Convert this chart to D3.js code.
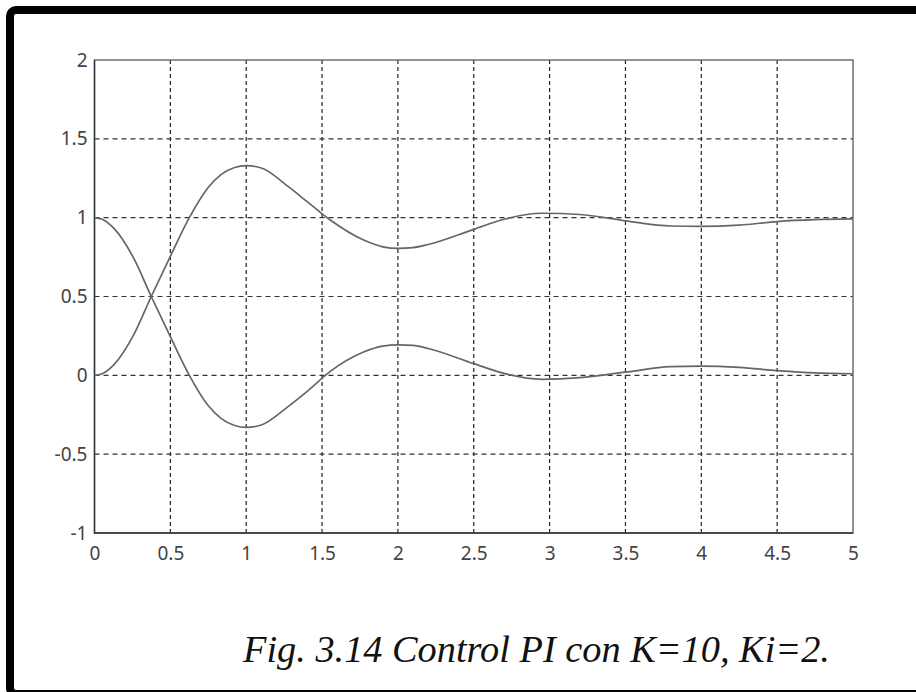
<!DOCTYPE html>
<html>
<head>
<meta charset="utf-8">
<script src="https://cdn.jsdelivr.net/npm/d3@7"></script>
<style>
  body { margin: 0; background: #fff; }
  svg { display: block; }
</style>
</head>
<body>
<svg id="chart" width="916" height="692"></svg>
<script>
// values
const time = [0, 0.05, 0.13, 0.26, 0.374, 0.5, 0.625, 0.748, 0.836, 0.924, 1.0, 1.1, 1.28, 1.41, 1.554, 1.774, 1.9, 2.0, 2.1, 2.2, 2.5, 2.7, 2.95, 3.2, 3.5, 3.8, 4.0, 4.25, 4.5, 4.75, 5.0];
const output = [0, 0.01, 0.07, 0.26, 0.5, 0.755, 1.0, 1.19, 1.275, 1.318, 1.33, 1.315, 1.195, 1.095, 0.985, 0.858, 0.815, 0.805, 0.81, 0.83, 0.926, 0.99, 1.028, 1.02, 0.98, 0.947, 0.945, 0.953, 0.975, 0.987, 0.992];
const error = [1, 0.99, 0.93, 0.74, 0.5, 0.245, 0.0, -0.19, -0.275, -0.318, -0.33, -0.315, -0.195, -0.095, 0.025, 0.148, 0.185, 0.193, 0.19, 0.17, 0.074, 0.012, -0.025, -0.015, 0.02, 0.055, 0.058, 0.05, 0.03, 0.015, 0.01];
const xTicks = [0, 0.5, 1, 1.5, 2, 2.5, 3, 3.5, 4, 4.5, 5];
const yTicks = [-1, -0.5, 0, 0.5, 1, 1.5, 2];
const caption = "Fig. 3.14 Control PI con K=10, Ki=2.";

const svg = d3.select("#chart");

// black frame around the figure
svg.append("rect")
  .attr("x", 10).attr("y", 10)
  .attr("width", 914).attr("height", 684)
  .attr("rx", 6)
  .attr("fill", "none")
  .attr("stroke", "#000")
  .attr("stroke-width", 8);

const plotLeft = 94.5, plotRight = 853, plotTop = 60, plotBottom = 533;

const x = d3.scaleLinear().domain([0, 5]).range([plotLeft, plotRight]);
const y = d3.scaleLinear().domain([-1, 2]).range([plotBottom, plotTop]);

// dashed grid
svg.selectAll(".vgrid")
  .data(xTicks.slice(1, -1))
  .enter()
  .append("line")
  .attr("class", "vgrid")
  .attr("x1", d => x(d)).attr("x2", d => x(d))
  .attr("y1", plotTop).attr("y2", plotBottom)
  .attr("stroke", "#222")
  .attr("stroke-width", 1.2)
  .attr("stroke-dasharray", "4,3");

svg.selectAll(".hgrid")
  .data(yTicks.slice(1, -1))
  .enter()
  .append("line")
  .attr("class", "hgrid")
  .attr("x1", plotLeft).attr("x2", plotRight)
  .attr("y1", d => y(d)).attr("y2", d => y(d))
  .attr("stroke", "#333")
  .attr("stroke-width", 1.2)
  .attr("stroke-dasharray", "5,4");

// axes box
svg.append("rect")
  .attr("x", plotLeft).attr("y", plotTop)
  .attr("width", plotRight - plotLeft).attr("height", plotBottom - plotTop)
  .attr("fill", "none")
  .attr("stroke", "#666")
  .attr("stroke-width", 1.4);

svg.append("path")
  .attr("d", `M${plotLeft},${plotTop}V${plotBottom}H${plotRight}`)
  .attr("fill", "none")
  .attr("stroke", "#333")
  .attr("stroke-width", 1.4);

const fmt = d => String(d);
const xAxis = d3.axisBottom(x).tickValues(xTicks).tickFormat(fmt).tickSize(0).tickPadding(14);
const yAxis = d3.axisLeft(y).tickValues(yTicks).tickFormat(fmt).tickSize(0).tickPadding(7);

const gx = svg.append("g").attr("transform", `translate(0,${plotBottom})`).call(xAxis);
const gy = svg.append("g").attr("transform", `translate(${plotLeft},0)`).call(yAxis);

[gx, gy].forEach(g => {
  g.select(".domain").remove();
  g.selectAll("text")
    .attr("font-family", "Noto Sans")
    .attr("font-size", 19)
    .attr("fill", "#444");
});

// curves
const line = d3.line()
  .x((d, i) => x(time[i]))
  .y(d => y(d))
  .curve(d3.curveMonotoneX);

[output, error].forEach(series => {
  svg.append("path")
    .datum(series)
    .attr("d", line)
    .attr("fill", "none")
    .attr("stroke", "#666")
    .attr("stroke-width", 1.7);
});

// caption
const cap = svg.append("text")
  .attr("x", 243).attr("y", 662)
  .attr("font-family", "Liberation Serif")
  .attr("font-style", "italic")
  .attr("font-size", 36)
  .attr("fill", "#111")
  .text(caption);

const w = cap.node().getComputedTextLength();
cap.attr("font-size", 36 * 587 / w);
</script>
</body>
</html>
